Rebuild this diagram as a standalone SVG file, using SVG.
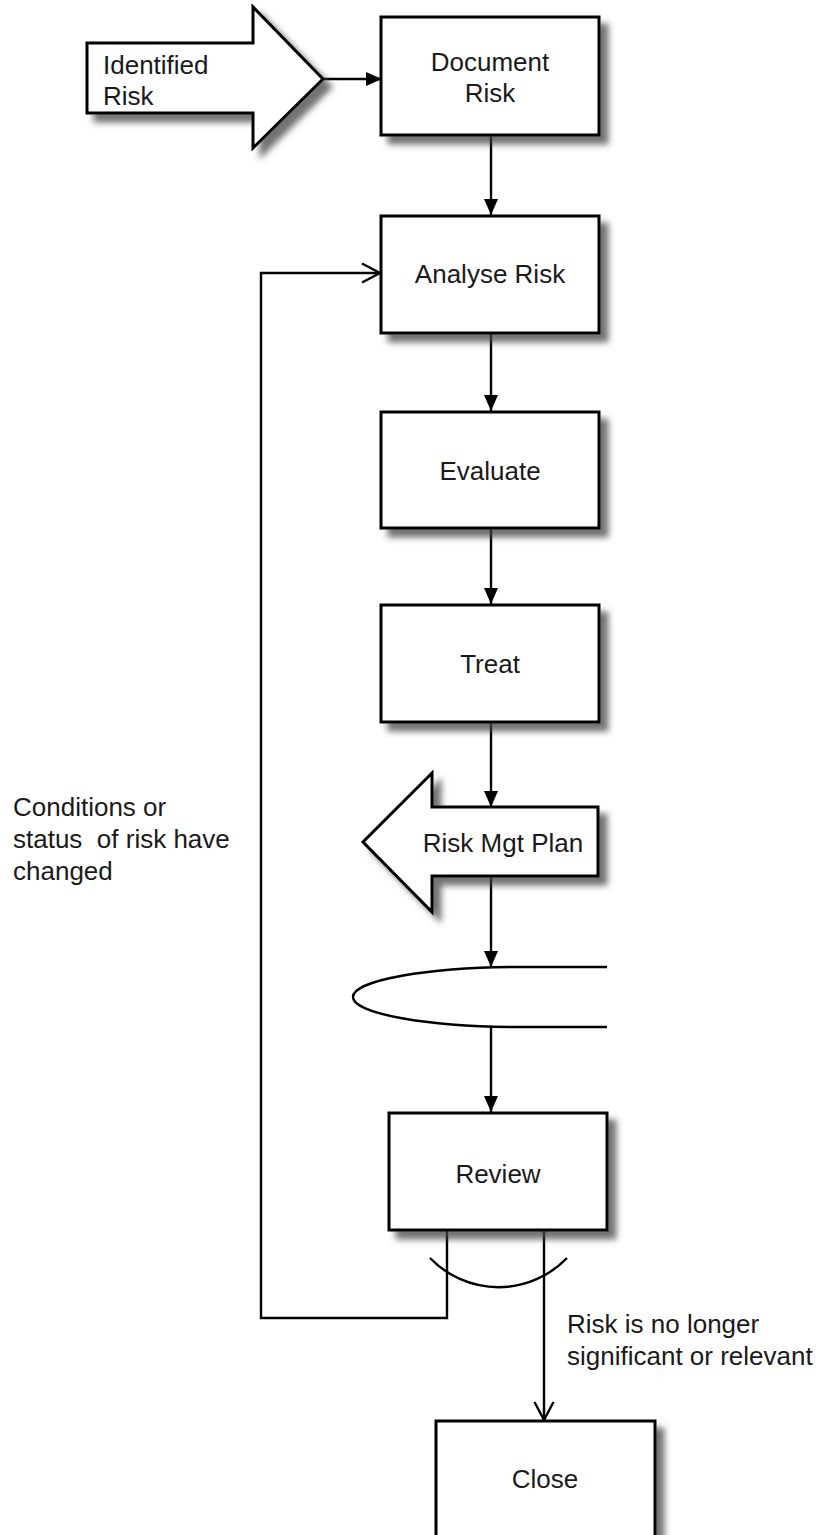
<svg xmlns="http://www.w3.org/2000/svg" width="821" height="1535" viewBox="0 0 821 1535">
<style>
.box{fill:#fff;stroke:#000;stroke-width:3;filter:url(#sh)}
.lbl{font-family:"Liberation Sans",Arial,sans-serif;font-size:26px;fill:#1a1a1a}
.c{text-anchor:middle}
.con{fill:none;stroke:#000;stroke-width:2.4}
</style>
<defs>
<filter id="sh" x="-10%" y="-10%" width="130%" height="130%">
<feDropShadow dx="8" dy="8" stdDeviation="3" flood-color="#444" flood-opacity="0.75"/>
</filter>
<marker id="fa" markerUnits="userSpaceOnUse" markerWidth="17" markerHeight="15" refX="16" refY="7" orient="auto">
<path d="M0,0 L16,7 L0,14 z" fill="#000"/>
</marker>
<marker id="oa" markerUnits="userSpaceOnUse" markerWidth="22" markerHeight="24" refX="19" refY="11" orient="auto">
<path d="M1,1.5 L19,11 L1,20.5" fill="none" stroke="#000" stroke-width="2.4"/>
</marker>
</defs>
<g id="connectors">
<line class="con" x1="323" y1="79" x2="382" y2="79" marker-end="url(#fa)"/>
<line class="con" x1="491" y1="135" x2="491" y2="215" marker-end="url(#fa)"/>
<line class="con" x1="491" y1="333" x2="491" y2="411" marker-end="url(#fa)"/>
<line class="con" x1="491" y1="528" x2="491" y2="604" marker-end="url(#fa)"/>
<line class="con" x1="491" y1="722" x2="491" y2="807" marker-end="url(#fa)"/>
<line class="con" x1="491" y1="876" x2="491" y2="967" marker-end="url(#fa)"/>
<line class="con" x1="491" y1="1027" x2="491" y2="1112" marker-end="url(#fa)"/>
<polyline class="con" points="447,1230 447,1318 261,1318 261,273 380,273" marker-end="url(#oa)"/>
<line class="con" x1="544" y1="1230" x2="544" y2="1420" marker-end="url(#oa)"/>
<path class="con" d="M430,1258 A95,95 0 0 0 567,1258"/>
</g>
<g id="identified-risk">
<path class="box" d="M87,43 L253,43 L253,7 L323,79 L253,148 L253,113 L87,113 z"/>
<text class="lbl" x="103" y="74">Identified</text>
<text class="lbl" x="103" y="105">Risk</text>
</g>
<g id="document-risk">
<rect class="box" x="381" y="17" width="218" height="118"/>
<text class="lbl c" x="490" y="71">Document</text>
<text class="lbl c" x="490" y="102">Risk</text>
</g>
<g id="analyse-risk">
<rect class="box" x="381" y="216" width="218" height="117"/>
<text class="lbl c" x="490" y="283">Analyse Risk</text>
</g>
<g id="evaluate">
<rect class="box" x="381" y="412" width="218" height="116"/>
<text class="lbl c" x="490" y="480">Evaluate</text>
</g>
<g id="treat">
<rect class="box" x="381" y="605" width="218" height="117"/>
<text class="lbl c" x="490" y="673">Treat</text>
</g>
<g id="risk-mgt-plan">
<path class="box" d="M598,807 L432,807 L432,773 L363,842 L432,912 L432,876 L598,876 z"/>
<text class="lbl c" x="503" y="852">Risk Mgt Plan</text>
</g>
<g id="decision">
<path d="M607,967 L520,967 A167,30 0 0 0 520,1027 L607,1027" fill="#fff" stroke="#000" stroke-width="2.4"/>
</g>
<g id="review">
<rect class="box" x="389" y="1113" width="218" height="117"/>
<text class="lbl c" x="498" y="1183">Review</text>
</g>
<g id="close">
<rect class="box" x="436" y="1421" width="219" height="130"/>
<text class="lbl c" x="545" y="1488">Close</text>
</g>
<g id="labels">
<text class="lbl" x="13" y="816">Conditions or</text>
<text class="lbl" x="13" y="848" xml:space="preserve">status  of risk have</text>
<text class="lbl" x="13" y="880">changed</text>
<text class="lbl" x="567" y="1333">Risk is no longer</text>
<text class="lbl" x="567" y="1365">significant or relevant</text>
</g>
</svg>
